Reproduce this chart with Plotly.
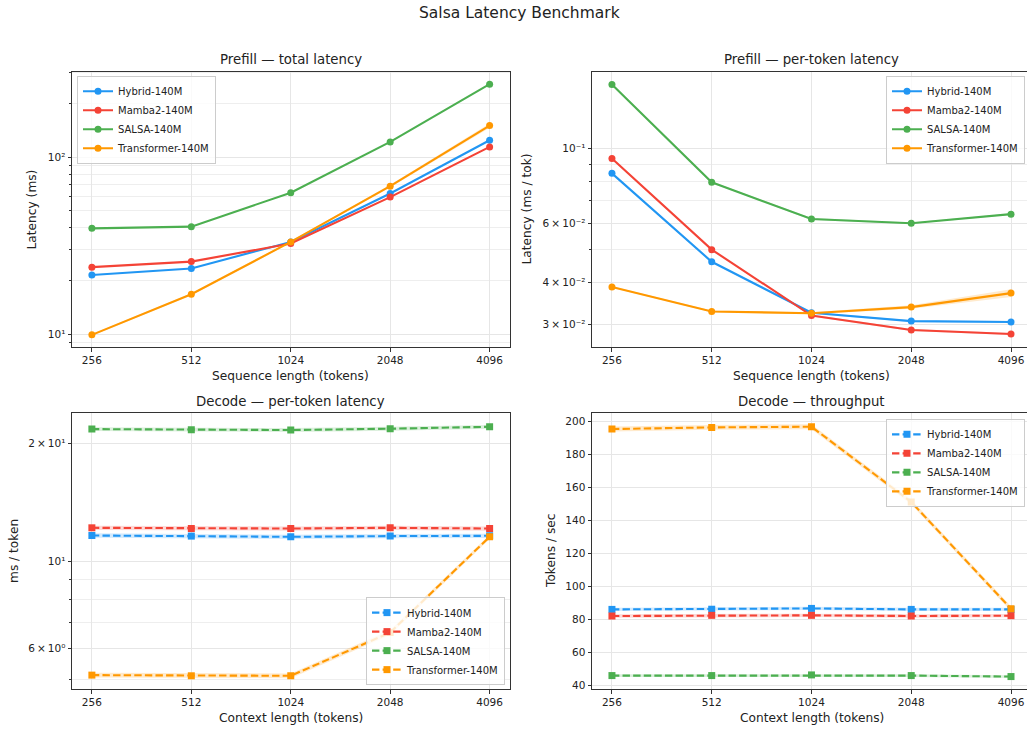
import math
import plotly.graph_objects as go

# ---------------- data ----------------
seq_len = [256, 512, 1024, 2048, 4096]
models = ["Hybrid-140M", "Mamba2-140M", "SALSA-140M", "Transformer-140M"]

prefill_total_hybrid = [21.6, 23.5, 33.2, 62.4, 124.7]
prefill_total_mamba2 = [23.9, 25.7, 32.5, 59.5, 114.4]
prefill_total_salsa = [39.6, 40.5, 63.0, 122.0, 259.0]
prefill_total_transformer = [9.9, 16.8, 33.2, 68.6, 151.0]

prefill_tok_hybrid = [0.0845, 0.0461, 0.0325, 0.0307, 0.0305]
prefill_tok_mamba2 = [0.0936, 0.0501, 0.0319, 0.0289, 0.0281]
prefill_tok_salsa = [0.1554, 0.0795, 0.0618, 0.0600, 0.0639]
prefill_tok_transformer = [0.0388, 0.0328, 0.0324, 0.0338, 0.0372]

decode_ms_hybrid = [11.65, 11.61, 11.56, 11.61, 11.63]
decode_ms_mamba2 = [12.19, 12.14, 12.14, 12.19, 12.14]
decode_ms_salsa = [21.80, 21.72, 21.68, 21.85, 22.10]
decode_ms_transformer = [5.12, 5.10, 5.10, 6.58, 11.56]

throughput_hybrid = [86.1, 86.2, 86.7, 86.1, 86.1]
throughput_mamba2 = [82.1, 82.5, 82.5, 82.1, 82.3]
throughput_salsa = [46.0, 46.0, 46.4, 46.0, 45.4]
throughput_transformer = [195.4, 196.4, 196.8, 151.2, 86.5]

# spread (std) shown as light bands
prefill_total_std_hybrid = [0.1, 0.1, 0.2, 0.4, 0.8]
prefill_total_std_mamba2 = [0.1, 0.1, 0.2, 0.4, 0.8]
prefill_total_std_salsa = [0.2, 0.2, 0.3, 0.6, 1.2]
prefill_total_std_transformer = [0.1, 0.2, 0.4, 1.2, 4.0]

prefill_tok_std_hybrid = [0.0004, 0.0002, 0.0002, 0.0002, 0.0002]
prefill_tok_std_mamba2 = [0.0004, 0.0002, 0.0002, 0.0002, 0.0002]
prefill_tok_std_salsa = [0.0006, 0.0004, 0.0004, 0.0003, 0.0003]
prefill_tok_std_transformer = [0.0002, 0.0002, 0.0002, 0.0004, 0.0010]

decode_ms_std_hybrid = [0.15, 0.15, 0.15, 0.15, 0.15]
decode_ms_std_mamba2 = [0.15, 0.15, 0.15, 0.15, 0.15]
decode_ms_std_salsa = [0.25, 0.25, 0.25, 0.25, 0.25]
decode_ms_std_transformer = [0.07, 0.07, 0.07, 0.10, 0.15]

throughput_std_hybrid = [1.0, 1.0, 1.0, 1.0, 1.0]
throughput_std_mamba2 = [1.0, 1.0, 1.0, 1.0, 1.0]
throughput_std_salsa = [0.8, 0.8, 0.8, 0.8, 0.8]
throughput_std_transformer = [1.5, 1.5, 1.5, 1.5, 1.5]

# y tick labels
tl_total_vals = [10, 100]
tl_total_text = ["10¹", "10²"]
tl_tok_vals = [0.03, 0.04, 0.06, 0.1]
tl_tok_text = ["3\u2009×\u200910⁻²", "4\u2009×\u200910⁻²", "6\u2009×\u200910⁻²", "10⁻¹"]
tl_dec_vals = [6, 10, 20]
tl_dec_text = ["6\u2009×\u200910⁰", "10¹", "2\u2009×\u200910¹"]
tl_thr_vals = [40, 60, 80, 100, 120, 140, 160, 180, 200]

colors = ["#2196F3", "#F44336", "#4CAF50", "#FF9800"]
band_colors = ["rgba(33,150,243,0.2)", "rgba(244,67,54,0.2)",
               "rgba(76,175,80,0.2)", "rgba(255,152,0,0.2)"]

panels = [
    ([prefill_total_hybrid, prefill_total_mamba2, prefill_total_salsa, prefill_total_transformer],
     [prefill_total_std_hybrid, prefill_total_std_mamba2, prefill_total_std_salsa, prefill_total_std_transformer],
     "circle", "solid"),
    ([prefill_tok_hybrid, prefill_tok_mamba2, prefill_tok_salsa, prefill_tok_transformer],
     [prefill_tok_std_hybrid, prefill_tok_std_mamba2, prefill_tok_std_salsa, prefill_tok_std_transformer],
     "circle", "solid"),
    ([decode_ms_hybrid, decode_ms_mamba2, decode_ms_salsa, decode_ms_transformer],
     [decode_ms_std_hybrid, decode_ms_std_mamba2, decode_ms_std_salsa, decode_ms_std_transformer],
     "square", "7.4px,3.2px"),
    ([throughput_hybrid, throughput_mamba2, throughput_salsa, throughput_transformer],
     [throughput_std_hybrid, throughput_std_mamba2, throughput_std_salsa, throughput_std_transformer],
     "square", "7.4px,3.2px"),
]

W, H = 1027, 730
FONT = "DejaVu Sans"
TXT = "#222222"

fig = go.Figure()

axis_ids = ["", "2", "3", "4"]
legend_ids = ["legend", "legend2", "legend3", "legend4"]

for p, (series, stds, sym, dash) in enumerate(panels):
    ax = axis_ids[p]
    for i, (vals, sd) in enumerate(zip(series, stds)):
        lo = [v - s for v, s in zip(vals, sd)]
        hi = [v + s for v, s in zip(vals, sd)]
        fig.add_trace(go.Scatter(x=seq_len, y=lo, mode="lines", line=dict(width=0, color=band_colors[i]),
                                 showlegend=False, hoverinfo="skip",
                                 xaxis="x" + ax, yaxis="y" + ax))
        fig.add_trace(go.Scatter(x=seq_len, y=hi, mode="lines", line=dict(width=0, color=band_colors[i]),
                                 fill="tonexty", fillcolor=band_colors[i],
                                 showlegend=False, hoverinfo="skip",
                                 xaxis="x" + ax, yaxis="y" + ax))
    for i, vals in enumerate(series):
        fig.add_trace(go.Scatter(
            x=seq_len, y=vals, name=models[i], mode="lines+markers",
            line=dict(color=colors[i], width=2.1, dash=dash),
            marker=dict(symbol=sym, size=7, color=colors[i]),
            xaxis="x" + ax, yaxis="y" + ax, legend=legend_ids[p]))

def px_x(v):
    return v / W

def px_y(v):
    return 1 - v / H

grid_col = "#e6e6e6"
line_col = "#333333"

# x ranges (log10)
lx0 = math.log10(256) - 0.0602
lx1 = math.log10(4096) + 0.0602
rx1 = lx0 + 435 / 331.4

x_common = dict(type="log", tickvals=seq_len, ticktext=[str(s) for s in seq_len],
                showgrid=True, gridcolor=grid_col, gridwidth=0.8,
                ticks="outside", ticklen=3.5, tickcolor=line_col,
                showline=True, linecolor=line_col, linewidth=1, mirror=True,
                tickfont=dict(family=FONT, size=10.5, color=TXT), zeroline=False)

dom_left = [px_x(72), px_x(509.5)]
dom_right = [px_x(592), 1.0]
dom_top = [px_y(348), px_y(72)]
dom_bot = [px_y(691), px_y(414)]

y_common = dict(showgrid=True, gridcolor=grid_col, gridwidth=0.8,
                ticks="outside", ticklen=3.5, tickcolor=line_col,
                showline=True, linecolor=line_col, linewidth=1,
                tickfont=dict(family=FONT, size=10.5, color=TXT), zeroline=False)

minor_common = dict(showgrid=True, gridcolor="#eeeeee", gridwidth=0.6,
                    ticks="outside", ticklen=2, tickcolor=line_col)

fig.update_layout(
    width=W, height=H,
    margin=dict(l=0, r=0, t=0, b=0),
    paper_bgcolor="white", plot_bgcolor="white",
    font=dict(family=FONT, color=TXT),
    xaxis=dict(x_common, domain=dom_left, range=[lx0, lx1], anchor="y"),
    xaxis2=dict(x_common, domain=dom_right, range=[lx0, rx1], anchor="y2"),
    xaxis3=dict(x_common, domain=dom_left, range=[lx0, lx1], anchor="y3"),
    xaxis4=dict(x_common, domain=dom_right, range=[lx0, rx1], anchor="y4"),
    yaxis=dict(y_common, type="log", domain=dom_top, anchor="x", mirror=True,
               range=[0.9267, 2.483], tickvals=tl_total_vals, ticktext=tl_total_text,
               minor=dict(minor_common, tickvals=[9, 20, 30, 40, 50, 60, 70, 80, 90, 200, 300])),
    yaxis2=dict(y_common, type="log", domain=dom_top, anchor="x2", mirror=False,
                range=[-1.590, -0.771], tickvals=tl_tok_vals, ticktext=tl_tok_text,
                minor=dict(minor_common, tickvals=[0.05, 0.07, 0.08, 0.09])),
    yaxis3=dict(y_common, type="log", domain=dom_bot, anchor="x3", mirror=True,
                range=[0.6735, 1.380], tickvals=tl_dec_vals, ticktext=tl_dec_text,
                minor=dict(minor_common, tickvals=[5, 7, 8, 9])),
    yaxis4=dict(y_common, type="linear", domain=dom_bot, anchor="x4", mirror=False,
                range=[37.8, 205.2], tickvals=tl_thr_vals),
)

leg_common = dict(bgcolor="rgba(255,255,255,0.8)", bordercolor="#cccccc", borderwidth=1,
                  font=dict(family=FONT, size=10, color=TXT), tracegroupgap=0,
                  itemwidth=30, traceorder="normal")
fig.update_layout(
    legend=dict(leg_common, x=px_x(77), y=px_y(76), xanchor="left", yanchor="top"),
    legend2=dict(leg_common, x=px_x(1025), y=px_y(76), xanchor="right", yanchor="top"),
    legend3=dict(leg_common, x=px_x(505), y=px_y(687), xanchor="right", yanchor="bottom"),
    legend4=dict(leg_common, x=px_x(1025), y=px_y(420), xanchor="right", yanchor="top"),
)

ann = []
ann.append(dict(text="Salsa Latency Benchmark", x=px_x(519), y=px_y(13), xref="paper", yref="paper",
                showarrow=False, font=dict(family=FONT, size=15.5, color=TXT), xanchor="center", yanchor="middle"))
titles = [("Prefill — total latency", 290.75, 60), ("Prefill — per-token latency", 811.5, 60),
          ("Decode — per-token latency", 290.75, 403), ("Decode — throughput", 811.5, 403)]
for t, cx, cy in titles:
    ann.append(dict(text=t, x=px_x(cx), y=px_y(cy), xref="paper", yref="paper", showarrow=False,
                    font=dict(family=FONT, size=13.3, color=TXT), xanchor="center", yanchor="middle"))
xlabels = [("Sequence length (tokens)", 290.75, 377), ("Sequence length (tokens)", 811.5, 377),
           ("Context length (tokens)", 290.75, 720), ("Context length (tokens)", 811.5, 720)]
for t, cx, cy in xlabels:
    ann.append(dict(text=t, x=px_x(cx), y=px_y(cy), xref="paper", yref="paper", showarrow=False,
                    font=dict(family=FONT, size=12.2, color=TXT), xanchor="center", yanchor="middle"))
ylabels = [("Latency (ms)", 32, 210), ("Latency (ms / tok)", 527, 210),
           ("ms / token", 14, 552.5), ("Tokens / sec", 551, 552.5)]
for t, cx, cy in ylabels:
    ann.append(dict(text=t, x=px_x(cx), y=px_y(cy), xref="paper", yref="paper", showarrow=False,
                    textangle=-90, font=dict(family=FONT, size=12.2, color=TXT),
                    xanchor="center", yanchor="middle"))
fig.update_layout(annotations=ann)

fig.write_html("out.html")
